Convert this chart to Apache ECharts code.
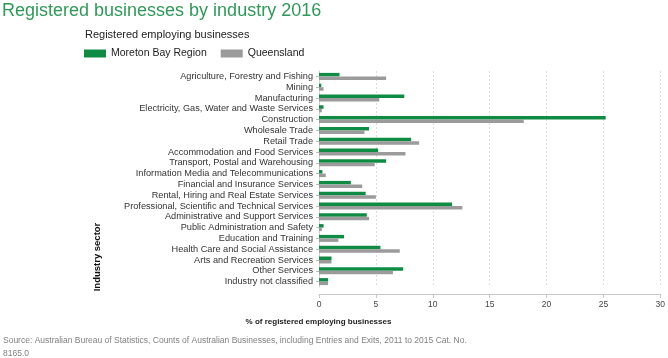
<!DOCTYPE html>
<html>
<head>
<meta charset="utf-8">
<script src="https://cdn.jsdelivr.net/npm/echarts@6/dist/echarts.min.js"></script>
<style>
  html, body { margin: 0; padding: 0; background: #fff; }
  #chart { width: 668px; height: 358px; }
</style>
</head>
<body>
<div id="chart"></div>
<script>
// industry sectors, top to bottom
const categories = [
  "Agriculture, Forestry and Fishing",
  "Mining",
  "Manufacturing",
  "Electricity, Gas, Water and Waste Services",
  "Construction",
  "Wholesale Trade",
  "Retail Trade",
  "Accommodation and Food Services",
  "Transport, Postal and Warehousing",
  "Information Media and Telecommunications",
  "Financial and Insurance Services",
  "Rental, Hiring and Real Estate Services",
  "Professional, Scientific and Technical Services",
  "Administrative and Support Services",
  "Public Administration and Safety",
  "Education and Training",
  "Health Care and Social Assistance",
  "Arts and Recreation Services",
  "Other Services",
  "Industry not classified"
];
const moretonBay = [1.8, 0.2, 7.5, 0.4, 25.2, 4.4, 8.1, 5.2, 5.9, 0.3,
  2.8, 4.1, 11.7, 4.2, 0.4, 2.2, 5.4, 1.1, 7.4, 0.8];
const queensland = [5.9, 0.4, 5.3, 0.25, 18.0, 4.0, 8.8, 7.6, 4.9, 0.6,
  3.8, 5.0, 12.6, 4.4, 0.25, 1.7, 7.1, 1.1, 6.5, 0.8];
const xTicks = [0, 5, 10, 15, 20, 25, 30];

const GREEN = "#0e8c43";
const GREY = "#9b9b9b";
const FONT = "Liberation Sans, Arial, sans-serif";

let myChart = echarts.init(document.getElementById("chart"));
myChart.setOption({
  animation: false,
  textStyle: { fontFamily: FONT },
  title: {
    text: "Registered businesses by industry 2016",
    left: 2,
    top: 2,
    padding: 0,
    textStyle: { color: "#2f9a58", fontSize: 18, fontWeight: "normal" }
  },
  legend: {
    left: 84,
    top: 48,
    padding: 0,
    itemWidth: 22,
    itemHeight: 8,
    itemGap: 14,
    icon: "rect",
    textStyle: { color: "#222", fontSize: 10.5 },
    data: ["Moreton Bay Region", "Queensland"]
  },
  grid: { left: 319, right: 7, top: 71, bottom: 71 },
  xAxis: {
    type: "value",
    min: 0,
    max: 30,
    interval: 5,
    offset: 7,
    axisLine: { show: true, lineStyle: { color: "#c8c8c8" } },
    axisTick: { show: true, length: 4, lineStyle: { color: "#c8c8c8" } },
    axisLabel: {
      color: "#444",
      fontSize: 8.5,
      margin: 6,
      formatter: (v) => (xTicks.includes(v) ? String(v) : "")
    },
    splitLine: { lineStyle: { color: "#dcdcdc", type: [2, 2] } }
  },
  yAxis: {
    type: "category",
    data: categories,
    inverse: true,
    axisLine: { show: true, lineStyle: { color: "#cfcfcf" } },
    axisTick: { show: true, alignWithLabel: true, interval: 0, length: 3, lineStyle: { color: "#bbb" } },
    axisLabel: { color: "#333", fontSize: 9.2, margin: 6, interval: 0 }
  },
  graphic: [
    {
      type: "text",
      left: 85,
      top: 29,
      style: { text: "Registered employing businesses", fill: "#222", fontSize: 11, fontFamily: FONT }
    },
    {
      type: "text",
      x: 97,
      y: 257,
      rotation: Math.PI / 2,
      style: { text: "Industry sector", fill: "#111", fontSize: 9.5, fontWeight: "bold",
        align: "center", verticalAlign: "middle", fontFamily: FONT }
    },
    {
      type: "text",
      x: 318.5,
      y: 322,
      style: { text: "% of registered employing businesses", fill: "#222", fontSize: 8, fontWeight: "bold",
        align: "center", verticalAlign: "middle", fontFamily: FONT }
    },
    {
      type: "text",
      x: 3,
      y: 334,
      style: { text: "Source: Australian Bureau of Statistics, Counts of Australian Businesses, including Entries and Exits, 2011 to 2015 Cat. No.\n8165.0",
        fill: "#808080", fontSize: 8.5, lineHeight: 13, verticalAlign: "top", fontFamily: FONT }
    }
  ],
  series: [
    {
      name: "Moreton Bay Region",
      type: "bar",
      data: moretonBay,
      barWidth: 3.5,
      barGap: 0,
      itemStyle: { color: GREEN }
    },
    {
      name: "Queensland",
      type: "bar",
      data: queensland,
      barWidth: 3.5,
      barGap: 0,
      itemStyle: { color: GREY }
    }
  ]
});

window.addEventListener("resize", () => {
  myChart.resize();
});
</script>
</body>
</html>
